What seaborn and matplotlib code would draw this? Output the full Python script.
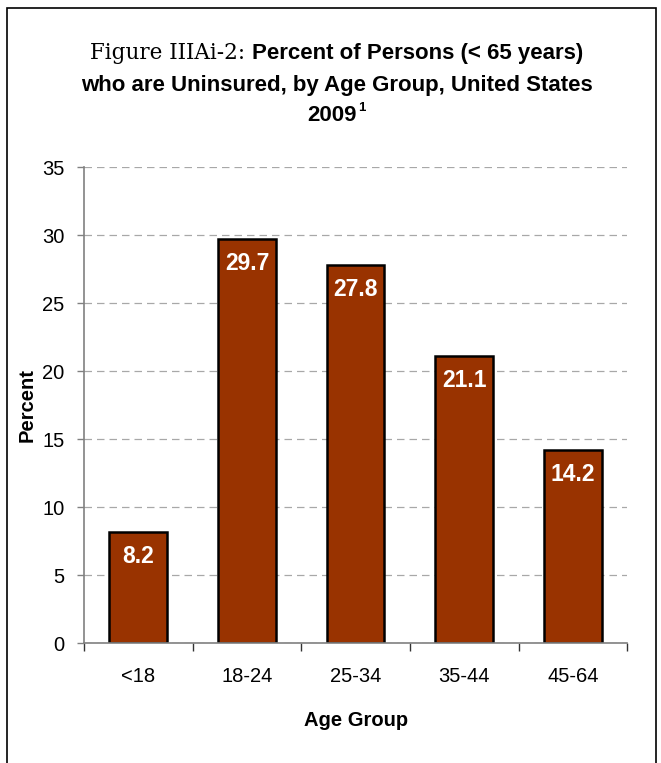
import matplotlib
matplotlib.use("Agg")
import matplotlib.pyplot as plt
from matplotlib.patches import Rectangle
import seaborn as sns

# chart data
age_groups = ["<18", "18-24", "25-34", "35-44", "45-64"]
pct_uninsured = [8.2, 29.7, 27.8, 21.1, 14.2]
y_ticks = [0, 5, 10, 15, 20, 25, 30, 35]

sns.set_style("white")
plt.rcParams["font.family"] = ["Liberation Sans", "DejaVu Sans"]
plt.rcParams["text.color"] = "black"
plt.rcParams["axes.labelcolor"] = "black"
plt.rcParams["xtick.color"] = "black"
plt.rcParams["ytick.color"] = "black"

W, H = 661, 763
fig = plt.figure(figsize=(W / 100, H / 100), dpi=100)
ax = fig.add_axes([0.127, 0.157, 0.822, 0.624])

sns.barplot(x=age_groups, y=pct_uninsured, color="#993300", saturation=1,
            edgecolor="black", linewidth=1.8, width=0.53, ax=ax)

for i, v in enumerate(pct_uninsured):
    ax.annotate(f"{v}", (i, v), xytext=(0, -13), textcoords="offset pixels",
                ha="center", va="top", color="white", fontsize=16.5, fontweight="bold")

ax.set_ylim(0, 35)
ax.set_xlim(-0.5, len(age_groups) - 0.5)
ax.set_yticks(y_ticks)
ax.yaxis.grid(True, linestyle=(0, (6, 4)), color="#a8a8a8", linewidth=0.9)
ax.set_axisbelow(True)

gray = "#808080"
for s in ["top", "right"]:
    ax.spines[s].set_visible(False)
for s in ["left", "bottom"]:
    ax.spines[s].set_color(gray)
    ax.spines[s].set_linewidth(1.2)

ax.tick_params(axis="y", direction="out", length=5, color=gray, width=1,
               labelsize=14.5, pad=9, left=True)
ax.tick_params(axis="x", which="major", length=0, labelsize=14.5, pad=17)
ax.set_xticks([i - 0.5 for i in range(len(age_groups) + 1)], minor=True)
ax.tick_params(axis="x", which="minor", direction="out", length=6, color="#333333",
               width=1, bottom=True)

ax.set_ylabel("Percent", fontsize=14.5, fontweight="bold", labelpad=4)
ax.set_xlabel("Age Group", fontsize=14.5, fontweight="bold", labelpad=18)

# title: serif prefix + bold sans rest on first line
fig.canvas.draw()
r = fig.canvas.get_renderer()
cx = 0.51 * W
t1 = fig.text(0, 0.930, "Figure IIIAi-2: ", fontsize=15.5, family="DejaVu Serif",
              va="center", ha="left")
t2 = fig.text(0, 0.930, "Percent of Persons (< 65 years)", fontsize=16,
              fontweight="bold", va="center", ha="left")
w1 = t1.get_window_extent(r).width
w2 = t2.get_window_extent(r).width
x0 = cx - (w1 + w2) / 2
t1.set_x(x0 / W)
t2.set_x((x0 + w1) / W)
fig.text(cx / W, 0.888, "who are Uninsured, by Age Group, United States",
         fontsize=16, fontweight="bold", ha="center", va="center")
t3 = fig.text(0.502, 0.849, "2009", fontsize=16, fontweight="bold", ha="center", va="center")
b3 = t3.get_window_extent(r)
fig.text(b3.x1 / W + 0.002, 0.859, "1", fontsize=9.5, fontweight="bold", ha="left", va="center")

# frame around the figure
fig.patches.append(Rectangle((0.0106, -0.02), 0.9818, 1.0095, transform=fig.transFigure,
                             fill=False, edgecolor="black", linewidth=1.2))

fig.savefig("out.png", dpi=100)
